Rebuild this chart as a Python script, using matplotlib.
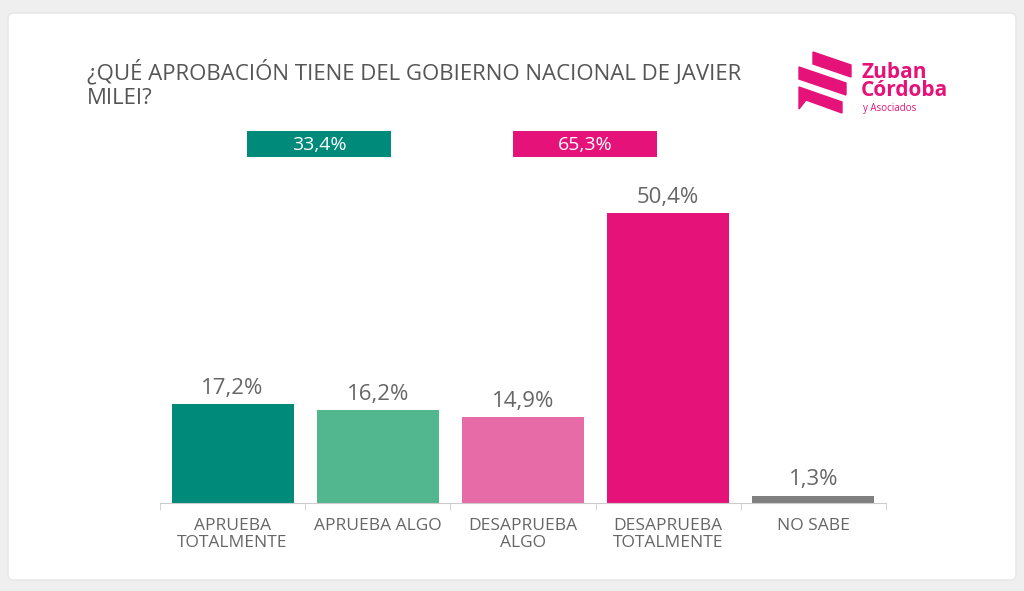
import matplotlib.pyplot as plt
from matplotlib.patches import Rectangle, Polygon, FancyBboxPatch

# data
categorias = ["APRUEBA\nTOTALMENTE", "APRUEBA ALGO", "DESAPRUEBA\nALGO",
              "DESAPRUEBA\nTOTALMENTE", "NO SABE"]
valores = [17.2, 16.2, 14.9, 50.4, 1.3]
etiquetas = ["17,2%", "16,2%", "14,9%", "50,4%", "1,3%"]
colores = ["#008A7A", "#52B78F", "#E66BA6", "#E5127A", "#7F7F7F"]

grupos = ["33,4%", "65,3%"]
grupo_colores = ["#008A7A", "#E5127A"]

titulo = "¿QUÉ APROBACIÓN TIENE DEL GOBIERNO NACIONAL DE JAVIER\nMILEI?"

W, H = 1024, 591
fig = plt.figure(figsize=(W / 100, H / 100), dpi=100)
fig.patch.set_facecolor("#EFEFEF")

# overlay in pixel coordinates for background, title, logo
ov = fig.add_axes([0, 0, 1, 1])
ov.set_xlim(0, W)
ov.set_ylim(H, 0)
ov.axis("off")
ov.add_patch(FancyBboxPatch((8, 13), W - 16, H - 24, boxstyle="round,pad=0,rounding_size=6",
                            facecolor="white", edgecolor="#E6E6E6", lw=1))

ov.text(87, 84, titulo, fontsize=16, color="#555555", family="Open Sans",
        va="center", ha="left", linespacing=1.2)

# group boxes
cajas = [(247, 131, 144, 26), (513, 131, 144, 26)]
for (x0, y0, w, h), txt, c in zip(cajas, grupos, grupo_colores):
    ov.add_patch(Rectangle((x0, y0), w, h, facecolor=c, edgecolor="none"))
    ov.text(x0 + w / 2, y0 + h / 2 + 1, txt, color="white", fontsize=14,
            ha="center", va="center", family="Open Sans")

# logo
rosa = "#E5127A"
ov.add_patch(Polygon([(813, 52), (851, 65), (851, 77), (813, 64)], color=rosa))
ov.add_patch(Polygon([(799, 67), (846, 83), (846, 95), (799, 79)], color=rosa))
ov.add_patch(Polygon([(799, 87), (842, 102), (842, 113), (806, 100), (799, 109)], color=rosa))
ov.text(861, 72, "Zuban", color=rosa, fontsize=15, fontweight="bold",
        family="Open Sans", va="center")
ov.text(861, 91, "Córdoba", color=rosa, fontsize=15, fontweight="bold",
        family="Open Sans", va="center")
ov.text(863, 108, "y Asociados", color=rosa, fontsize=7, family="Open Sans", va="center")

# main chart
ax = fig.add_axes([160 / W, (H - 503) / H, 726 / W, 345 / H])
ax.patch.set_alpha(0)
pos = list(range(len(valores)))
ax.bar(pos, valores, width=0.84, color=colores)
for p, v, t in zip(pos, valores, etiquetas):
    ax.text(p, v + 0.9, t, ha="center", va="bottom", fontsize=16,
            color="#666666", family="Open Sans")

ax.set_xlim(-0.5, 4.5)
ax.set_ylim(0, 60)
ax.set_xticks(pos)
ax.set_xticklabels(categorias, fontsize=12.5, color="#666666", family="Open Sans",
                   linespacing=1.1)
ax.set_xticks([p - 0.5 for p in pos] + [4.5], minor=True)
ax.tick_params(axis="x", which="major", length=0, pad=11)
ax.tick_params(axis="x", which="minor", length=5, color="#CCCCCC")
ax.set_yticks([])
for s in ["top", "right", "left"]:
    ax.spines[s].set_visible(False)
ax.spines["bottom"].set_color("#CCCCCC")

fig.savefig("out.png", dpi=100, facecolor=fig.get_facecolor())
